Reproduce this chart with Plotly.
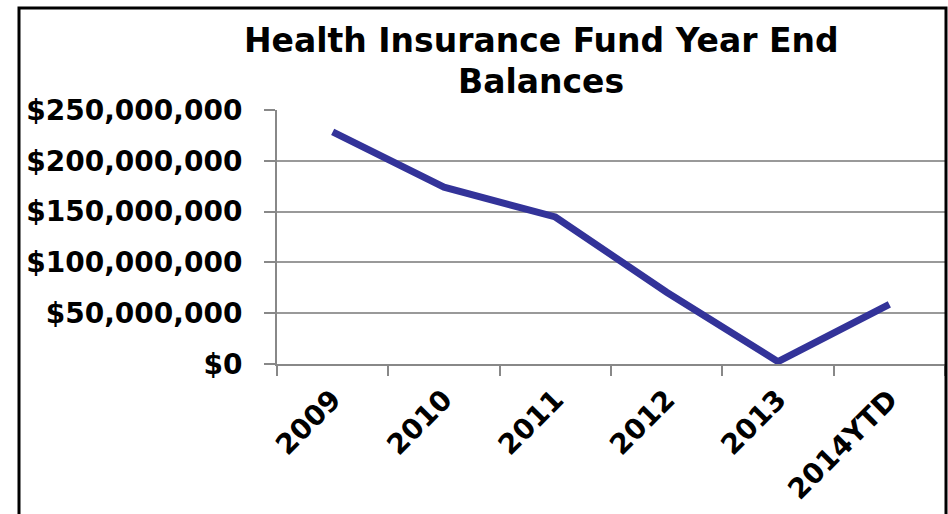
import plotly.graph_objects as go

# Year-end balances of the health insurance fund (USD)
years = ["2009", "2010", "2011", "2012", "2013", "2014YTD"]
balances = [228_500_000, 174_000_000, 144_700_000, 70_600_000, 2_300_000, 58_700_000]
tick_values = [0, 50_000_000, 100_000_000, 150_000_000, 200_000_000, 250_000_000]
tick_labels = ["$0", "$50,000,000", "$100,000,000", "$150,000,000", "$200,000,000", "$250,000,000"]
title_lines = ["Health Insurance Fund Year End", "Balances"]

FONT = "Verdana, DejaVu Sans, sans-serif"
W, H = 948, 514
M_L, M_R, M_T, M_B = 277, 3, 110, 150
PH = H - M_T - M_B  # plot height in px
PW = W - M_L - M_R


def py(pix):
    """Convert a pixel row to paper y."""
    return (H - M_B - pix) / PH


def px(pix):
    """Convert a pixel column to paper x."""
    return (pix - M_L) / PW


fig = go.Figure()
fig.add_trace(go.Scatter(
    x=years, y=balances, mode="lines",
    line=dict(color="#333399", width=7),
    hoverinfo="x+y",
))

fig.update_layout(
    width=W, height=H,
    paper_bgcolor="white", plot_bgcolor="white",
    margin=dict(l=M_L, r=M_R, t=M_T, b=M_B),
    showlegend=False,
    font=dict(family=FONT, color="black"),
)

# Two-line bold title
for text, ymid in zip(title_lines, [40, 81]):
    fig.add_annotation(
        text=f"<b>{text}</b>", xref="paper", yref="paper",
        x=px(541), y=py(ymid), xanchor="center", yanchor="middle",
        showarrow=False, font=dict(family=FONT, size=33, color="black"),
    )

fig.update_xaxes(
    type="category", range=[-0.5, 5.5],
    tickson="boundaries", ticks="outside", ticklen=10, tickwidth=2, tickcolor="#888888",
    ticklabelstandoff=6,
    showline=True, linecolor="#888888", linewidth=2,
    showgrid=False, tickangle=-45,
    tickfont=dict(family=FONT, size=28, color="black"),
    tickprefix="<b>", ticksuffix="</b>",
)
fig.update_yaxes(
    range=[0, 250_000_000],
    tickvals=tick_values, ticktext=[f"<b>{t}</b>" for t in tick_labels],
    ticks="outside", ticklen=11, tickwidth=2, tickcolor="#888888",
    ticklabelstandoff=16,
    showline=True, linecolor="#888888", linewidth=2,
    showgrid=True, gridcolor="#999999", gridwidth=2,
    zeroline=False,
    tickfont=dict(family=FONT, size=28, color="black"),
)

# Chart frame (bottom edge runs past the page)
fig.add_shape(
    type="rect", xref="paper", yref="paper",
    x0=px(19), x1=px(946), y0=py(560), y1=py(8),
    line=dict(color="black", width=3), fillcolor="rgba(0,0,0,0)",
    layer="above",
)

fig.write_html("out.html")
